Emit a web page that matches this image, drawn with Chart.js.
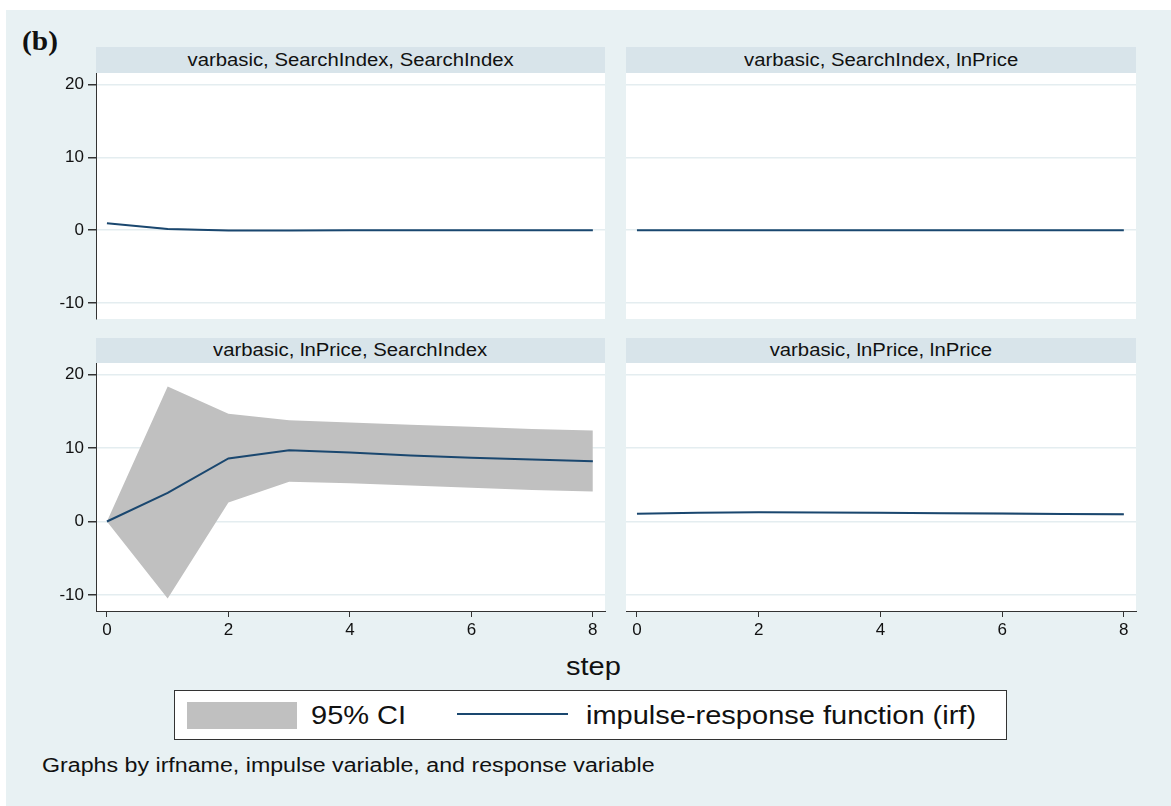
<!DOCTYPE html>
<html>
<head>
<meta charset="utf-8">
<script src="https://cdn.jsdelivr.net/npm/chart.js@4.4.1/dist/chart.umd.min.js"></script>
<style>
  body { margin: 0; width: 1171px; height: 806px; overflow: hidden; background: #fff;
         font-family: "Liberation Sans", Arial, sans-serif; color: #111; position: relative; }
  #bg { position: absolute; left: 6px; top: 10px; right: 0; bottom: 0; background: #e8f1f3; }
  .hdr { position: absolute; background: #d8e4ea; display: flex; align-items: center;
         justify-content: center; font-size: 17.5px; }
  .sx { display: inline-block; transform: scaleX(1.16); white-space: nowrap; }
  .lx { position: absolute; display: flex; align-items: center; white-space: nowrap; }
  .lx .sx { transform-origin: left center; }
  canvas { position: absolute; }
</style>
</head>
<body>
<div id="bg"></div>
<div class="lx" style="left:22px;top:25px;height:32px;font:bold 28px 'Liberation Serif', 'Times New Roman', serif;"><span class="sx" style="transform:scaleX(1.05);">(b)</span></div>

<div class="hdr" style="left:96px;top:47px;width:509px;height:26px;"><span class="sx">varbasic, SearchIndex, SearchIndex</span></div>
<div class="hdr" style="left:626px;top:47px;width:510px;height:26px;"><span class="sx">varbasic, SearchIndex, lnPrice</span></div>
<div class="hdr" style="left:96px;top:338px;width:509px;height:25px;"><span class="sx">varbasic, lnPrice, SearchIndex</span></div>
<div class="hdr" style="left:626px;top:338px;width:510px;height:25px;"><span class="sx">varbasic, lnPrice, lnPrice</span></div>

<div class="lx" style="left:490px;width:200px;top:652px;height:28px;justify-content:center;font-size:25px;"><span class="sx">step</span></div>

<div style="position:absolute;left:174px;top:690px;width:833px;height:50px;box-sizing:border-box;border:1px solid #333;background:#fff;"></div>
<div style="position:absolute;left:187px;top:702px;width:110px;height:27px;background:#c0c0c0;"></div>
<div class="lx" style="left:311px;top:700px;height:30px;font-size:25px;"><span class="sx">95% CI</span></div>
<div style="position:absolute;left:457px;top:713px;width:111px;height:2px;background:#1a476f;"></div>
<div class="lx" style="left:586px;top:700px;height:30px;font-size:25px;"><span class="sx">impulse-response function (irf)</span></div>

<div class="lx" style="left:42px;top:751px;height:28px;font-size:20px;"><span class="sx">Graphs by irfname, impulse variable, and response variable</span></div>

<script>
var steps = [0, 1, 2, 3, 4, 5, 6, 7, 8];
var xTicks = [0, 2, 4, 6, 8];
var yTicks = [-10, 0, 10, 20];

// impulse SearchIndex -> response SearchIndex
var irfSS = [0.96, 0.18, -0.03, -0.04, -0.02, -0.01, 0, 0, 0];
var loSS  = [0.96, 0.08, -0.12, -0.10, -0.07, -0.05, -0.04, -0.03, -0.03];
var hiSS  = [0.96, 0.28, 0.06, 0.03, 0.03, 0.03, 0.03, 0.03, 0.03];

// impulse SearchIndex -> response lnPrice
var irfSP = [0, 0, 0, 0, 0, 0, 0, 0, 0];
var loSP  = [0, -0.01, -0.01, -0.02, -0.02, -0.02, -0.02, -0.02, -0.02];
var hiSP  = [0, 0.01, 0.01, 0.02, 0.02, 0.02, 0.02, 0.02, 0.02];

// impulse lnPrice -> response SearchIndex
var irfPS = [0, 3.9, 8.6, 9.7, 9.4, 9.0, 8.7, 8.45, 8.2];
var loPS  = [0, -10.5, 2.6, 5.4, 5.2, 4.9, 4.6, 4.3, 4.1];
var hiPS  = [0, 18.4, 14.7, 13.8, 13.5, 13.2, 12.9, 12.6, 12.4];

// impulse lnPrice -> response lnPrice
var irfPP = [1.05, 1.2, 1.25, 1.22, 1.18, 1.13, 1.08, 1.02, 0.97];
var loPP  = [1.05, 1.15, 1.18, 1.14, 1.08, 1.02, 0.96, 0.9, 0.85];
var hiPP  = [1.05, 1.25, 1.32, 1.3, 1.27, 1.23, 1.19, 1.14, 1.1];

var NAVY = "#1a476f";
var CI = "#c0c0c0";
var GRID = "#e4edf0";
var AXIS = "#333";
var tickFont = { family: "'Liberation Sans', Arial, sans-serif", size: 17 };

function pts(vals) {
  return steps.map(function (s, i) { return { x: s, y: vals[i] }; });
}

var whiteArea = {
  id: "whiteArea",
  beforeDraw: function (chart) {
    var a = chart.chartArea, c = chart.ctx;
    c.save();
    c.fillStyle = "#fff";
    c.fillRect(a.left, a.top, a.right - a.left, a.bottom - a.top);
    c.restore();
  }
};

function makePanel(box, showY, showX, irf, lo, hi) {
  var padL = showY ? 70 : 20, padB = showX ? 40 : 20;
  var cv = document.createElement("canvas");
  cv.width = box.w + padL + 20;
  cv.height = box.h + 20 + padB;
  cv.style.left = (box.x - padL) + "px";
  cv.style.top = (box.y - 20) + "px";
  document.body.appendChild(cv);

  new Chart(cv, {
    type: "line",
    data: {
      datasets: [
        { data: pts(irf), borderColor: NAVY, borderWidth: 2, pointRadius: 0, fill: false },
        { data: pts(lo), borderColor: "transparent", borderWidth: 0, pointRadius: 0, fill: false },
        { data: pts(hi), borderColor: "transparent", borderWidth: 0, pointRadius: 0, fill: 1, backgroundColor: CI }
      ]
    },
    options: {
      responsive: false,
      animation: false,
      events: [],
      layout: { padding: { left: showY ? 0 : 20, top: 20, right: 20, bottom: showX ? 0 : 20 } },
      plugins: { legend: { display: false }, tooltip: { enabled: false } },
      scales: {
        x: {
          type: "linear", min: -0.18, max: 8.2, display: showX,
          afterBuildTicks: function (s) { s.ticks = xTicks.map(function (v) { return { value: v }; }); },
          afterFit: function (s) { s.height = showX ? 40 : 0; },
          grid: { drawOnChartArea: false, tickLength: 6, tickColor: AXIS },
          border: { color: AXIS, width: 1 },
          ticks: { padding: 3, color: "#111", font: tickFont, maxRotation: 0 }
        },
        y: {
          type: "linear", min: -12.2, max: 21.6,
          afterBuildTicks: function (s) { s.ticks = yTicks.map(function (v) { return { value: v }; }); },
          afterFit: function (s) { s.width = showY ? 70 : 0; },
          grid: { color: GRID, lineWidth: 1.5, drawTicks: showY, tickLength: 8, tickColor: AXIS },
          border: { display: showY, color: AXIS, width: 1 },
          ticks: { display: showY, padding: 4, color: "#111", font: tickFont }
        }
      }
    },
    plugins: [whiteArea]
  });
}

makePanel({ x: 96, y: 73, w: 509, h: 246 }, true, false, irfSS, loSS, hiSS);
makePanel({ x: 626, y: 73, w: 510, h: 246 }, false, false, irfSP, loSP, hiSP);
makePanel({ x: 96, y: 363, w: 509, h: 248 }, true, true, irfPS, loPS, hiPS);
makePanel({ x: 626, y: 363, w: 510, h: 248 }, false, true, irfPP, loPP, hiPP);
</script>
</body>
</html>
